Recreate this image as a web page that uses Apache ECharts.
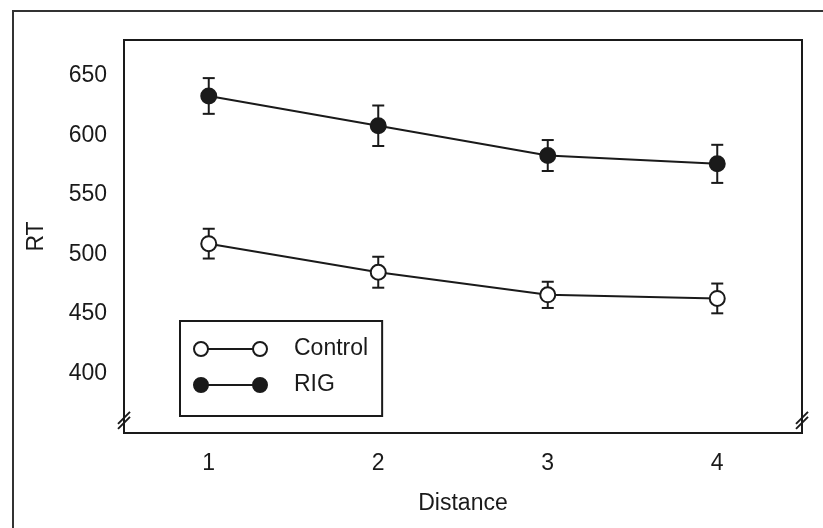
<!DOCTYPE html>
<html>
<head>
<meta charset="utf-8">
<script src="https://cdn.jsdelivr.net/npm/echarts@6/dist/echarts.min.js"></script>
<style>
html,body{margin:0;padding:0;background:#fff;}
#chart{width:823px;height:528px;}
</style>
</head>
<body>
<div id="chart"></div>
<script>
const distances = ['1', '2', '3', '4'];
const yTickLabels = [400, 450, 500, 550, 600, 650];
const controlRT = [509, 485, 466, 463];
const controlErr = [12.5, 13, 11, 12.5];
const rigRT = [633, 608, 583, 576];
const rigErr = [15, 17, 13, 16];

const INK = '#1a1a1a';
const FONT = '"Liberation Sans", Arial, Helvetica, sans-serif';
const legendIcon = 'path://M0 7 A7 7 0 1 0 14 7 A7 7 0 1 0 0 7 Z M14 7 L59 7 M59 7 A7 7 0 1 0 73 7 A7 7 0 1 0 59 7 Z';

function errData(vals, errs) {
  return vals.map((v, i) => [i, v - errs[i], v + errs[i]]);
}
function renderErr(params, api) {
  const x = api.value(0);
  const lo = api.coord([x, api.value(1)]);
  const hi = api.coord([x, api.value(2)]);
  const hw = 6;
  const st = { stroke: INK, lineWidth: 2, fill: 'none' };
  return {
    type: 'group',
    children: [
      { type: 'line', shape: { x1: lo[0], y1: lo[1], x2: hi[0], y2: hi[1] }, style: st },
      { type: 'line', shape: { x1: lo[0] - hw, y1: lo[1], x2: lo[0] + hw, y2: lo[1] }, style: st },
      { type: 'line', shape: { x1: hi[0] - hw, y1: hi[1], x2: hi[0] + hw, y2: hi[1] }, style: st }
    ]
  };
}

const chart = echarts.init(document.getElementById('chart'), null, { renderer: 'canvas' });
const option = {
  backgroundColor: '#fff',
  animation: false,
  textStyle: { fontFamily: FONT, color: INK },
  grid: {
    left: 124, right: 21, top: 40, bottom: 95,
    show: true, borderColor: INK, borderWidth: 2, backgroundColor: 'transparent'
  },
  xAxis: {
    type: 'category',
    data: distances,
    boundaryGap: true,
    name: 'Distance',
    nameLocation: 'middle',
    nameGap: 59,
    nameTextStyle: { fontSize: 23, color: INK, fontFamily: FONT },
    axisLine: { show: true, lineStyle: { color: INK, width: 2 } },
    axisTick: { show: false },
    axisLabel: { fontSize: 23, color: INK, margin: 19, fontFamily: FONT },
    splitLine: { show: false }
  },
  yAxis: {
    type: 'value',
    min: 350,
    max: 680,
    interval: 50,
    name: 'RT',
    nameLocation: 'middle',
    nameGap: 76,
    nameRotate: 90,
    nameTextStyle: { fontSize: 23, color: INK, fontFamily: FONT },
    axisLine: { show: true, lineStyle: { color: INK, width: 2 } },
    axisTick: { show: false },
    axisLabel: {
      fontSize: 23, color: INK, margin: 17, fontFamily: FONT,
      showMinLabel: false, showMaxLabel: false,
      formatter: v => (yTickLabels.indexOf(v) >= 0 ? String(v) : '')
    },
    splitLine: { show: false }
  },
  legend: {
    orient: 'vertical',
    left: 180,
    top: 321,
    padding: [16, 14, 19, 13],
    itemGap: 12,
    itemWidth: 73,
    itemHeight: 14,
    borderColor: INK,
    borderWidth: 2,
    backgroundColor: '#fff',
    textStyle: { fontSize: 23, color: INK, fontFamily: FONT, lineHeight: 24, padding: [0, 0, 0, 22] },
    data: [
      { name: 'Control', icon: legendIcon },
      { name: 'RIG', icon: legendIcon }
    ]
  },
  series: [
    {
      type: 'custom', name: 'Control err', z: 1, silent: true,
      renderItem: renderErr, data: errData(controlRT, controlErr)
    },
    {
      type: 'custom', name: 'RIG err', z: 1, silent: true,
      renderItem: renderErr, data: errData(rigRT, rigErr)
    },
    {
      type: 'line', name: 'Control', data: controlRT, z: 3,
      symbol: 'circle', symbolSize: 15,
      lineStyle: { color: INK, width: 2 },
      itemStyle: { color: '#fff', borderColor: INK, borderWidth: 2 }
    },
    {
      type: 'line', name: 'RIG', data: rigRT, z: 3,
      symbol: 'circle', symbolSize: 15,
      lineStyle: { color: INK, width: 2 },
      itemStyle: { color: INK, borderColor: INK, borderWidth: 2 }
    }
  ]
};
chart.setOption(option);

// decorative frame and axis-break marks
const leftPt = chart.convertToPixel({ gridIndex: 0 }, [0, 361]);
const gridRect = chart.getModel().getComponent('grid').coordinateSystem.getRect();
const breakY = leftPt[1];
function breakMark(x) {
  const st = { stroke: INK, lineWidth: 2 };
  return [
    { type: 'line', shape: { x1: x - 6, y1: breakY + 4, x2: x + 6, y2: breakY - 8 }, style: st, z: 10 },
    { type: 'line', shape: { x1: x - 6, y1: breakY + 9, x2: x + 6, y2: breakY - 3 }, style: st, z: 10 }
  ];
}
chart.setOption({
  graphic: [
    { type: 'rect', shape: { x: 13, y: 11, width: 900, height: 600 }, style: { stroke: '#333', lineWidth: 2, fill: 'none' }, z: 0 }
  ].concat(breakMark(gridRect.x), breakMark(gridRect.x + gridRect.width))
});
</script>
</body>
</html>
